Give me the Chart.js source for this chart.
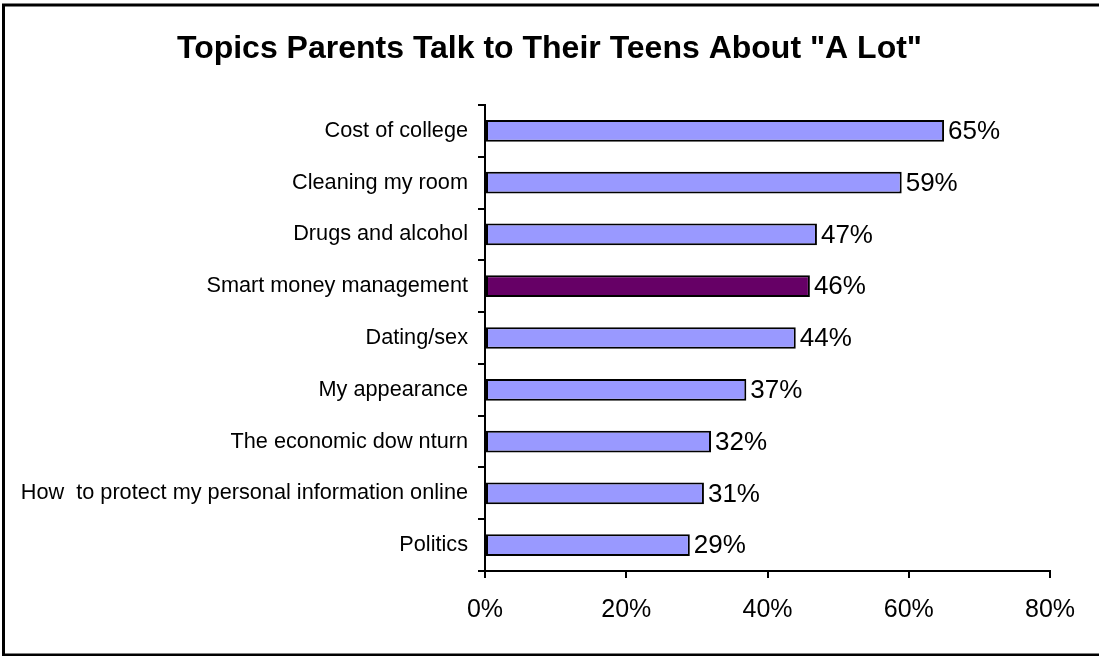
<!DOCTYPE html>
<html>
<head>
<meta charset="utf-8">
<title>Topics Parents Talk to Their Teens About "A Lot"</title>
<script src="https://cdn.jsdelivr.net/npm/chart.js@4/dist/chart.umd.min.js"></script>
<style>
  html, body { margin: 0; padding: 0; background: #fff; }
  canvas { display: block; }
</style>
</head>
<body>
<canvas id="topicsChart" width="1099" height="656"></canvas>
<script>
// survey answers, share of teens saying the topic comes up "a lot"
const chartTitle = 'Topics Parents Talk to Their Teens About "A Lot"';
const topics = [
    'Cost of college',
    'Cleaning my room',
    'Drugs and alcohol',
    'Smart money management',
    'Dating/sex',
    'My appearance',
    'The economic dow nturn',
    'How  to protect my personal information online',
    'Politics'
];
const shares = [65, 59, 47, 46, 44, 37, 32, 31, 29];
const highlightTopic = 'Smart money management';
const xTicks = [0, 20, 40, 60, 80];

const FONT = "'Liberation Sans', Arial, sans-serif";

// outer frame and the heading, centred on the whole canvas
const framePlugin = {
    id: 'frame',
    beforeDraw(chart) {
        const ctx = chart.ctx;
        ctx.save();
        ctx.fillStyle = '#fff';
        ctx.fillRect(0, 0, chart.width, chart.height);
        ctx.strokeStyle = '#000';
        ctx.lineWidth = 3;
        ctx.strokeRect(3.5, 5, chart.width + 20, chart.height - 6);

        ctx.font = 'bold 32px ' + FONT;
        ctx.fillStyle = '#000';
        ctx.textAlign = 'center';
        ctx.textBaseline = 'alphabetic';
        ctx.fillText(chartTitle, chart.width / 2, 58);
        ctx.restore();
    }
};

// percentage written just past the end of each bar
const valueLabels = {
    id: 'valueLabels',
    afterDatasetsDraw(chart) {
        const ctx = chart.ctx;
        const meta = chart.getDatasetMeta(0);
        ctx.save();
        ctx.font = '26px ' + FONT;
        ctx.fillStyle = '#000';
        ctx.textAlign = 'left';
        ctx.textBaseline = 'middle';
        meta.data.forEach((bar, i) => {
            ctx.fillText(shares[i] + '%', bar.x + 4, bar.y + 1);
        });
        ctx.restore();
    }
};

const ctx = document.getElementById('topicsChart').getContext('2d');
new Chart(ctx, {
    type: 'bar',
    data: {
        labels: topics,
        datasets: [{
            data: shares,
            backgroundColor: topics.map(t => t === highlightTopic ? '#660066' : '#9999ff'),
            borderColor: '#000',
            borderWidth: 2,
            borderSkipped: false,
            barPercentage: 0.42,
            categoryPercentage: 1
        }]
    },
    options: {
        indexAxis: 'y',
        responsive: false,
        animation: false,
        layout: {
            padding: { top: 105, right: 49, bottom: 0, left: 0 }
        },
        plugins: {
            legend: { display: false },
            tooltip: { enabled: false },
            title: { display: false }
        },
        scales: {
            x: {
                min: 0,
                max: 80,
                afterBuildTicks(scale) {
                    scale.ticks = xTicks.map(v => ({ value: v }));
                },
                afterFit(scale) {
                    scale.height = 85;
                },
                ticks: {
                    color: '#000',
                    font: { family: FONT, size: 25 },
                    padding: 17,
                    maxRotation: 0,
                    callback: v => v + '%'
                },
                grid: {
                    drawOnChartArea: false,
                    drawTicks: true,
                    tickLength: 7,
                    color: '#000',
                    lineWidth: 2
                },
                border: { color: '#000', width: 2 }
            },
            y: {
                afterFit(scale) {
                    scale.width = 485;
                },
                ticks: {
                    color: '#000',
                    font: { family: FONT, size: 21.7 },
                    padding: 10
                },
                grid: {
                    offset: true,
                    drawOnChartArea: false,
                    drawTicks: true,
                    tickLength: 7,
                    color: '#000',
                    lineWidth: 2
                },
                border: { color: '#000', width: 2 }
            }
        }
    },
    plugins: [framePlugin, valueLabels]
});
</script>
</body>
</html>
